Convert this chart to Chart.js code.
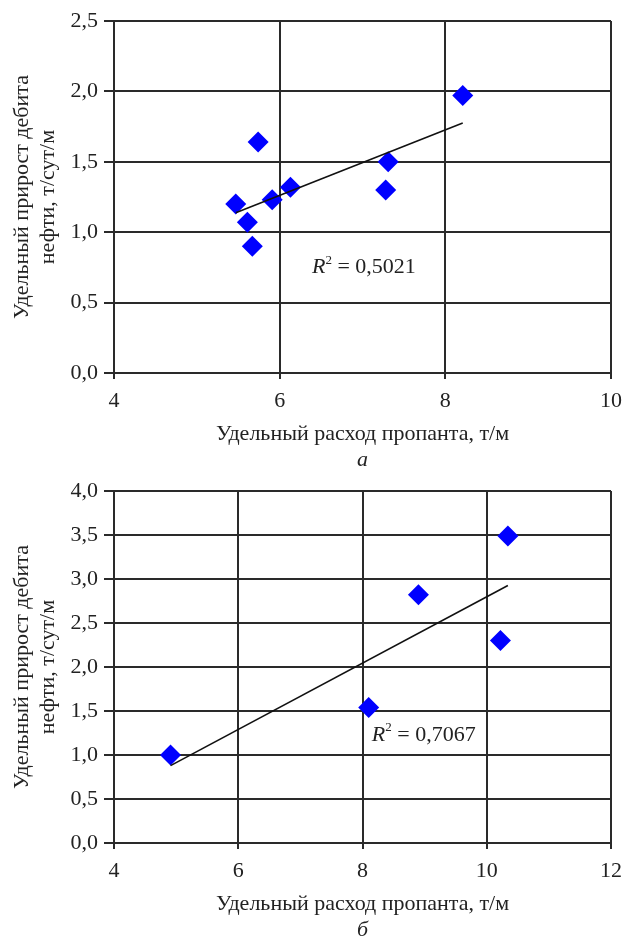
<!DOCTYPE html>
<html>
<head>
<meta charset="utf-8">
<script src="https://cdn.jsdelivr.net/npm/chart.js@4.4.0/dist/chart.umd.min.js"></script>
<style>
body { margin: 0; background: #fff; width: 624px; height: 938px; position: relative; overflow: hidden; }
canvas { position: absolute; left: 0; }
.cap { position: absolute; left: 0; width: 725px; text-align: center; font-family: 'Liberation Serif', 'Times New Roman', serif; font-style: italic; font-size: 22px; color: #222; line-height: 24px; }
</style>
</head>
<body>
<canvas id="chart-a" width="624" height="450" style="top:0"></canvas>
<div class="cap" style="top:447px">а</div>
<canvas id="chart-b" width="624" height="450" style="top:470px"></canvas>
<div class="cap" style="top:917px">б</div>
<script>
// (а) удельный расход пропанта vs удельный прирост дебита
const propA = [5.47, 5.61, 5.67, 5.74, 5.91, 6.13, 7.28, 7.31, 8.21];
const gainA = [1.20, 1.07, 0.90, 1.64, 1.23, 1.32, 1.30, 1.50, 1.97];
const xTicksA = [4, 6, 8, 10];
const yTicksA = [0, 0.5, 1.0, 1.5, 2.0, 2.5];

// (б)
const propB = [4.91, 8.10, 8.90, 10.22, 10.34];
const gainB = [1.00, 1.54, 2.82, 2.30, 3.49];
const xTicksB = [4, 6, 8, 10, 12];
const yTicksB = [0, 0.5, 1.0, 1.5, 2.0, 2.5, 3.0, 3.5, 4.0];

const SERIF = "'Liberation Serif', 'Times New Roman', serif";
const font = { family: SERIF, size: 22 };
const gridColor = '#2a2a2a';

// R^2 label, placed in data coordinates
const r2Plugin = {
    id: 'r2',
    afterDatasetsDraw(chart, args, opts) {
        var ctx = chart.ctx;
        var x = chart.scales.x.getPixelForValue(opts.x);
        var y = chart.scales.y.getPixelForValue(opts.y);
        ctx.save();
        ctx.fillStyle = '#222';
        ctx.textBaseline = 'middle';
        ctx.font = 'italic 22px ' + SERIF;
        ctx.fillText('R', x, y);
        var w = ctx.measureText('R').width;
        ctx.font = '13px ' + SERIF;
        ctx.fillText('2', x + w, y - 7);
        w += ctx.measureText('2').width;
        ctx.font = '22px ' + SERIF;
        ctx.fillText(' = ' + opts.value, x + w, y);
        ctx.restore();
    }
};

function trend(xs, ys) {
    var n = xs.length, mx = 0, my = 0;
    for (var i = 0; i < n; i++) { mx += xs[i]; my += ys[i]; }
    mx /= n; my /= n;
    var sxy = 0, sxx = 0;
    for (var i = 0; i < n; i++) {
        sxy += (xs[i] - mx) * (ys[i] - my);
        sxx += (xs[i] - mx) * (xs[i] - mx);
    }
    var k = sxy / sxx, b = my - k * mx;
    var x0 = Math.min.apply(null, xs), x1 = Math.max.apply(null, xs);
    return [{ x: x0, y: k * x0 + b }, { x: x1, y: k * x1 + b }];
}

function makeChart(id, xs, ys, xTicks, yTicks, r2) {
    var ctx = document.getElementById(id).getContext('2d');
    return new Chart(ctx, {
        type: 'scatter',
        data: {
            datasets: [{
                type: 'line',
                data: trend(xs, ys),
                borderColor: '#111',
                borderWidth: 1.6,
                pointRadius: 0,
                order: 0
            }, {
                data: xs.map((x, i) => ({ x: x, y: ys[i] })),
                pointStyle: 'rectRot',
                pointRadius: 10.5,
                backgroundColor: '#0000ff',
                borderColor: '#0000ff',
                borderWidth: 0,
                order: 1
            }]
        },
        options: {
            responsive: false,
            animation: false,
            layout: { padding: { top: 21, right: 13, bottom: 0, left: 0 } },
            plugins: { legend: { display: false }, tooltip: { enabled: false }, r2: r2 },
            scales: {
                x: {
                    type: 'linear',
                    min: xTicks[0],
                    max: xTicks[xTicks.length - 1],
                    afterBuildTicks: s => { s.ticks = xTicks.map(v => ({ value: v })); },
                    afterFit: s => { s.height = 77; s.paddingLeft = 0; s.paddingRight = 0; },
                    grid: { color: gridColor, lineWidth: 2, tickLength: 6 },
                    border: { color: gridColor, width: 2 },
                    ticks: { color: '#222', font: font, padding: 9, maxRotation: 0, callback: v => String(v) },
                    title: { display: true, text: 'Удельный расход пропанта, т/м', color: '#222', font: font, padding: { top: 0, bottom: 3 } }
                },
                y: {
                    type: 'linear',
                    min: yTicks[0],
                    max: yTicks[yTicks.length - 1],
                    afterBuildTicks: s => { s.ticks = yTicks.map(v => ({ value: v })); },
                    afterFit: s => { s.width = 114; s.paddingTop = 0; s.paddingBottom = 0; },
                    grid: { color: gridColor, lineWidth: 2, tickLength: 10 },
                    border: { color: gridColor, width: 2 },
                    ticks: { color: '#222', font: font, padding: 6, callback: v => v.toFixed(1).replace('.', ',') },
                    title: { display: true, text: ['Удельный прирост дебита', 'нефти, т/сут/м'], color: '#222', font: font, padding: { top: 9, bottom: 0 } }
                }
            }
        },
        plugins: [r2Plugin]
    });
}

makeChart('chart-a', propA, gainA, xTicksA, yTicksA, { x: 6.39, y: 0.75, value: '0,5021' });
makeChart('chart-b', propB, gainB, xTicksB, yTicksB, { x: 8.15, y: 1.23, value: '0,7067' });
</script>
</body>
</html>
